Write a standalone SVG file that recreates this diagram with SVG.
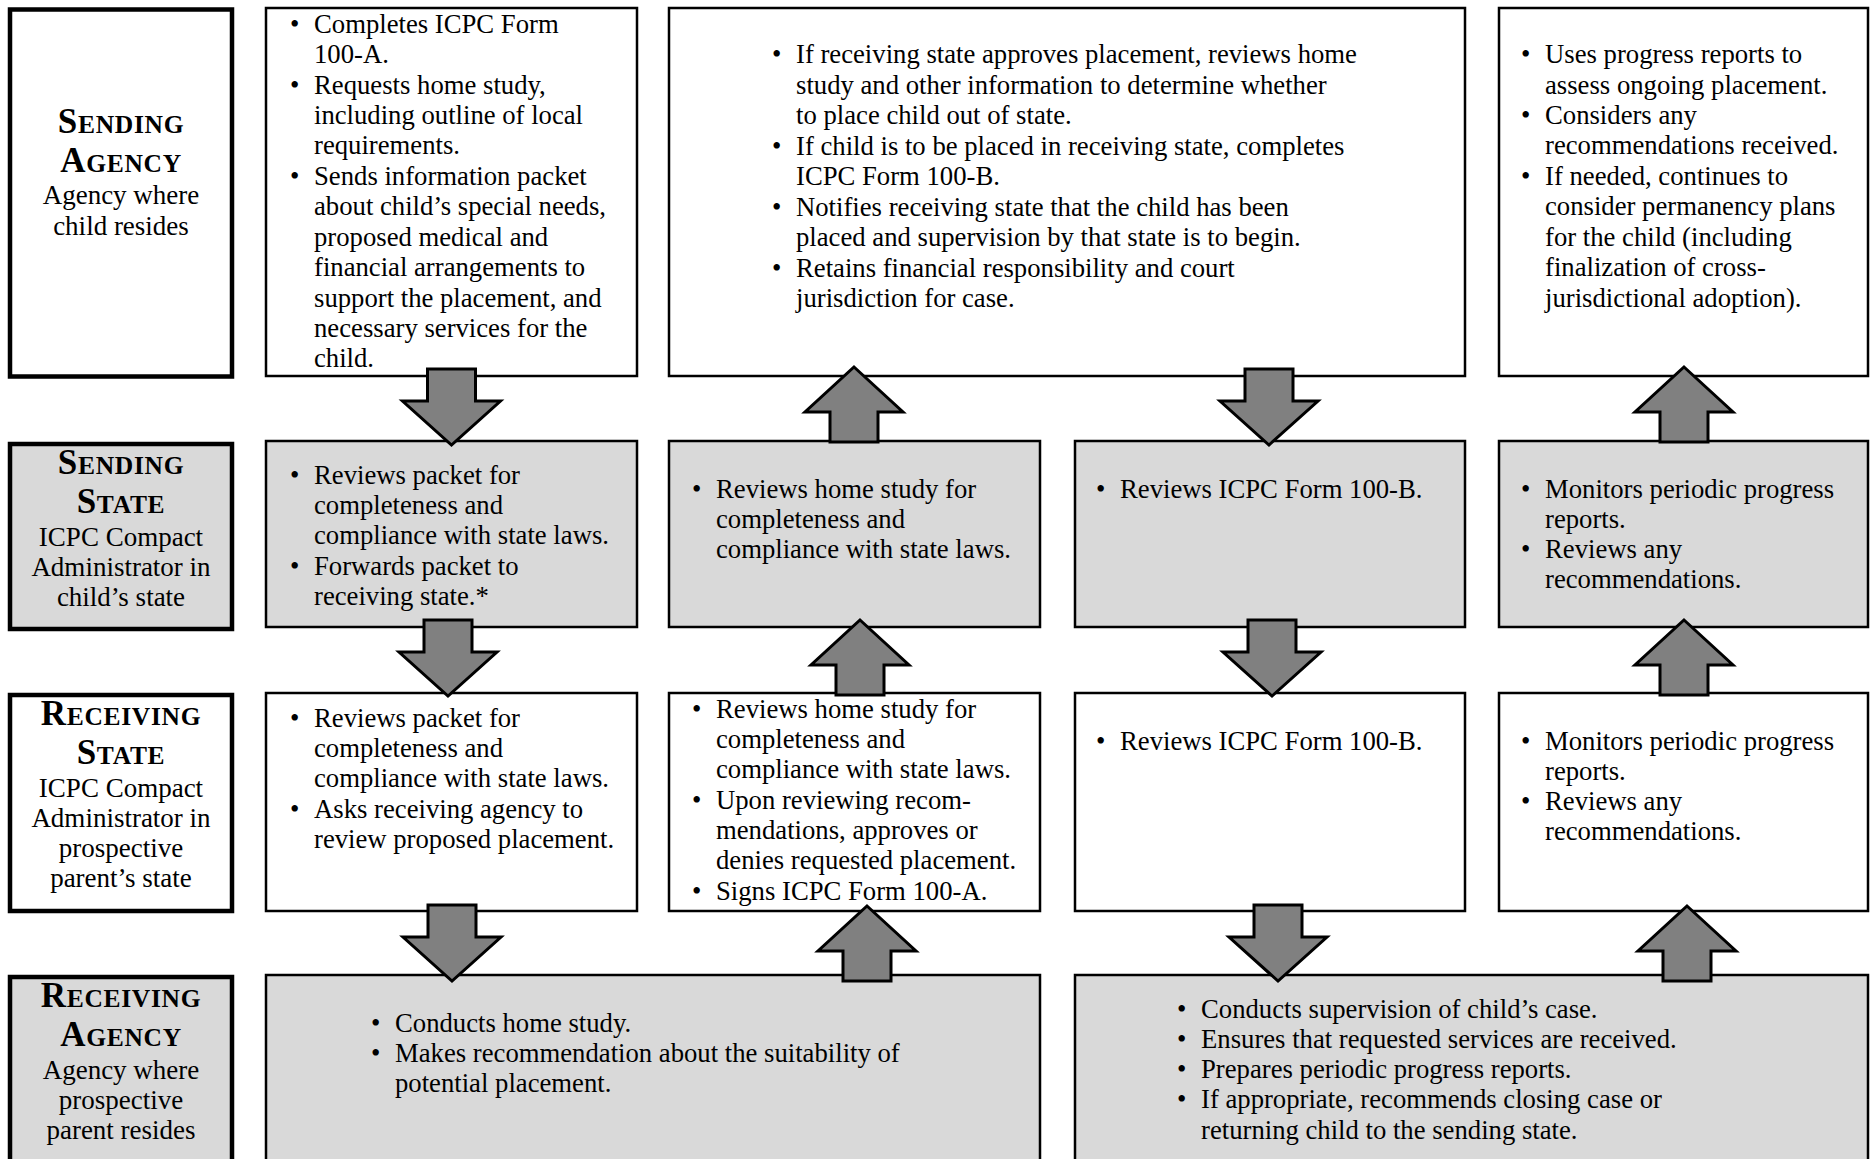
<svg xmlns="http://www.w3.org/2000/svg" xmlns:xlink="http://www.w3.org/1999/xlink" width="1874" height="1159" viewBox="0 0 1874 1159">
<defs>
<style>
.box{fill:#fff;stroke:#000;stroke-width:2.5}
.gray{fill:#d9d9d9}
.lbl{stroke-width:4.5}
.t{font-family:"Liberation Serif","Times New Roman",serif;font-size:26.7px;fill:#000}
.h{font-family:"Liberation Serif","Times New Roman",serif;font-weight:bold;font-size:35px;text-anchor:middle;letter-spacing:0.7px;fill:#000}
.h tspan{font-size:25.5px}
.sub{font-family:"Liberation Serif","Times New Roman",serif;font-size:27px;text-anchor:middle;fill:#000}
.arrow{fill:#808080;stroke:#000;stroke-width:3;stroke-linejoin:miter}
</style>
<path id="down" d="M-24,0 H24 V32 H49 L0,76 L-49,32 H-24 Z"/>
<path id="up" d="M0,0 L49,45 H24 V75 H-24 V45 H-49 Z"/>
</defs>
<rect width="1874" height="1159" fill="#fff"/>

<!-- Row labels -->
<g id="label-sending-agency">
<rect class="box lbl" x="10" y="9.5" width="222" height="367"/>
<text class="h" x="121" y="133">S<tspan>ENDING</tspan></text>
<text class="h" x="121" y="172">A<tspan>GENCY</tspan></text>
<text class="sub" x="121" y="204">Agency where</text>
<text class="sub" x="121" y="235">child resides</text>
</g>
<g id="label-sending-state">
<rect class="box gray lbl" x="10" y="444" width="222" height="185"/>
<text class="h" x="121" y="474">S<tspan>ENDING</tspan></text>
<text class="h" x="121" y="513">S<tspan>TATE</tspan></text>
<text class="sub" x="121" y="546">ICPC Compact</text>
<text class="sub" x="121" y="576">Administrator in</text>
<text class="sub" x="121" y="606">child’s state</text>
</g>
<g id="label-receiving-state">
<rect class="box lbl" x="10" y="695" width="222" height="216"/>
<text class="h" x="121" y="725">R<tspan>ECEIVING</tspan></text>
<text class="h" x="121" y="764">S<tspan>TATE</tspan></text>
<text class="sub" x="121" y="797">ICPC Compact</text>
<text class="sub" x="121" y="827">Administrator in</text>
<text class="sub" x="121" y="857">prospective</text>
<text class="sub" x="121" y="887">parent’s state</text>
</g>
<g id="label-receiving-agency">
<rect class="box gray lbl" x="10" y="977" width="222" height="200"/>
<text class="h" x="121" y="1007">R<tspan>ECEIVING</tspan></text>
<text class="h" x="121" y="1046">A<tspan>GENCY</tspan></text>
<text class="sub" x="121" y="1079">Agency where</text>
<text class="sub" x="121" y="1109">prospective</text>
<text class="sub" x="121" y="1139">parent resides</text>
</g>

<!-- Row 1 -->
<g id="sa-1">
<rect class="box" x="266" y="8" width="371" height="368"/>
<text class="t">
<tspan x="290" y="33">•</tspan><tspan x="314" y="33">Completes ICPC Form</tspan>
<tspan x="314" y="63">100-A.</tspan>
<tspan x="290" y="94">•</tspan><tspan x="314" y="94">Requests home study,</tspan>
<tspan x="314" y="124">including outline of local</tspan>
<tspan x="314" y="154">requirements.</tspan>
<tspan x="290" y="185">•</tspan><tspan x="314" y="185">Sends information packet</tspan>
<tspan x="314" y="215">about child’s special needs,</tspan>
<tspan x="314" y="246">proposed medical and</tspan>
<tspan x="314" y="276">financial arrangements to</tspan>
<tspan x="314" y="307">support the placement, and</tspan>
<tspan x="314" y="337">necessary services for the</tspan>
<tspan x="314" y="367">child.</tspan>
</text>
</g>
<g id="sa-2">
<rect class="box" x="669" y="8" width="796" height="368"/>
<text class="t">
<tspan x="772" y="63">•</tspan><tspan x="796" y="63">If receiving state approves placement, reviews home</tspan>
<tspan x="796" y="94">study and other information to determine whether</tspan>
<tspan x="796" y="124">to place child out of state.</tspan>
<tspan x="772" y="155">•</tspan><tspan x="796" y="155">If child is to be placed in receiving state, completes</tspan>
<tspan x="796" y="185">ICPC Form 100-B.</tspan>
<tspan x="772" y="216">•</tspan><tspan x="796" y="216">Notifies receiving state that the child has been</tspan>
<tspan x="796" y="246">placed and supervision by that state is to begin.</tspan>
<tspan x="772" y="277">•</tspan><tspan x="796" y="277">Retains financial responsibility and court</tspan>
<tspan x="796" y="307">jurisdiction for case.</tspan>
</text>
</g>
<g id="sa-4">
<rect class="box" x="1499" y="8" width="369" height="368"/>
<text class="t">
<tspan x="1521" y="63">•</tspan><tspan x="1545" y="63">Uses progress reports to</tspan>
<tspan x="1545" y="94">assess ongoing placement.</tspan>
<tspan x="1521" y="124">•</tspan><tspan x="1545" y="124">Considers any</tspan>
<tspan x="1545" y="154">recommendations received.</tspan>
<tspan x="1521" y="185">•</tspan><tspan x="1545" y="185">If needed, continues to</tspan>
<tspan x="1545" y="215">consider permanency plans</tspan>
<tspan x="1545" y="246">for the child (including</tspan>
<tspan x="1545" y="276">finalization of cross-</tspan>
<tspan x="1545" y="307">jurisdictional adoption).</tspan>
</text>
</g>

<!-- Row 2 -->
<g id="ss-1">
<rect class="box gray" x="266" y="441" width="371" height="186"/>
<text class="t">
<tspan x="290" y="484">•</tspan><tspan x="314" y="484">Reviews packet for</tspan>
<tspan x="314" y="514">completeness and</tspan>
<tspan x="314" y="544">compliance with state laws.</tspan>
<tspan x="290" y="575">•</tspan><tspan x="314" y="575">Forwards packet to</tspan>
<tspan x="314" y="605">receiving state.*</tspan>
</text>
</g>
<g id="ss-2">
<rect class="box gray" x="669" y="441" width="371" height="186"/>
<text class="t">
<tspan x="692" y="498">•</tspan><tspan x="716" y="498">Reviews home study for</tspan>
<tspan x="716" y="528">completeness and</tspan>
<tspan x="716" y="558">compliance with state laws.</tspan>
</text>
</g>
<g id="ss-3">
<rect class="box gray" x="1075" y="441" width="390" height="186"/>
<text class="t">
<tspan x="1096" y="498">•</tspan><tspan x="1120" y="498">Reviews ICPC Form 100-B.</tspan>
</text>
</g>
<g id="ss-4">
<rect class="box gray" x="1499" y="441" width="369" height="186"/>
<text class="t">
<tspan x="1521" y="498">•</tspan><tspan x="1545" y="498">Monitors periodic progress</tspan>
<tspan x="1545" y="528">reports.</tspan>
<tspan x="1521" y="558">•</tspan><tspan x="1545" y="558">Reviews any</tspan>
<tspan x="1545" y="588">recommendations.</tspan>
</text>
</g>

<!-- Row 3 -->
<g id="rs-1">
<rect class="box" x="266" y="693" width="371" height="218"/>
<text class="t">
<tspan x="290" y="727">•</tspan><tspan x="314" y="727">Reviews packet for</tspan>
<tspan x="314" y="757">completeness and</tspan>
<tspan x="314" y="787">compliance with state laws.</tspan>
<tspan x="290" y="818">•</tspan><tspan x="314" y="818">Asks receiving agency to</tspan>
<tspan x="314" y="848">review proposed placement.</tspan>
</text>
</g>
<g id="rs-2">
<rect class="box" x="669" y="693" width="371" height="218"/>
<text class="t">
<tspan x="692" y="718">•</tspan><tspan x="716" y="718">Reviews home study for</tspan>
<tspan x="716" y="748">completeness and</tspan>
<tspan x="716" y="778">compliance with state laws.</tspan>
<tspan x="692" y="809">•</tspan><tspan x="716" y="809">Upon reviewing recom-</tspan>
<tspan x="716" y="839">mendations, approves or</tspan>
<tspan x="716" y="869">denies requested placement.</tspan>
<tspan x="692" y="900">•</tspan><tspan x="716" y="900">Signs ICPC Form 100-A.</tspan>
</text>
</g>
<g id="rs-3">
<rect class="box" x="1075" y="693" width="390" height="218"/>
<text class="t">
<tspan x="1096" y="750">•</tspan><tspan x="1120" y="750">Reviews ICPC Form 100-B.</tspan>
</text>
</g>
<g id="rs-4">
<rect class="box" x="1499" y="693" width="369" height="218"/>
<text class="t">
<tspan x="1521" y="750">•</tspan><tspan x="1545" y="750">Monitors periodic progress</tspan>
<tspan x="1545" y="780">reports.</tspan>
<tspan x="1521" y="810">•</tspan><tspan x="1545" y="810">Reviews any</tspan>
<tspan x="1545" y="840">recommendations.</tspan>
</text>
</g>

<!-- Row 4 -->
<g id="ra-1">
<rect class="box gray" x="266" y="975" width="774" height="200"/>
<text class="t">
<tspan x="371" y="1032">•</tspan><tspan x="395" y="1032">Conducts home study.</tspan>
<tspan x="371" y="1062">•</tspan><tspan x="395" y="1062">Makes recommendation about the suitability of</tspan>
<tspan x="395" y="1092">potential placement.</tspan>
</text>
</g>
<g id="ra-2">
<rect class="box gray" x="1075" y="975" width="793" height="200"/>
<text class="t">
<tspan x="1177" y="1018">•</tspan><tspan x="1201" y="1018">Conducts supervision of child’s case.</tspan>
<tspan x="1177" y="1048">•</tspan><tspan x="1201" y="1048">Ensures that requested services are received.</tspan>
<tspan x="1177" y="1078">•</tspan><tspan x="1201" y="1078">Prepares periodic progress reports.</tspan>
<tspan x="1177" y="1108">•</tspan><tspan x="1201" y="1108">If appropriate, recommends closing case or</tspan>
<tspan x="1201" y="1139">returning child to the sending state.</tspan>
</text>
</g>

<!-- Connectors -->
<g id="connectors" class="arrow">
<use xlink:href="#down" transform="translate(451.5,369)"/>
<use xlink:href="#up" transform="translate(854,367)"/>
<use xlink:href="#down" transform="translate(1269,369)"/>
<use xlink:href="#up" transform="translate(1684,367)"/>
<use xlink:href="#down" transform="translate(448,620)"/>
<use xlink:href="#up" transform="translate(860,620)"/>
<use xlink:href="#down" transform="translate(1272,620)"/>
<use xlink:href="#up" transform="translate(1684,620)"/>
<use xlink:href="#down" transform="translate(452,905)"/>
<use xlink:href="#up" transform="translate(867,906)"/>
<use xlink:href="#down" transform="translate(1278,905)"/>
<use xlink:href="#up" transform="translate(1687,906)"/>
</g>
</svg>
